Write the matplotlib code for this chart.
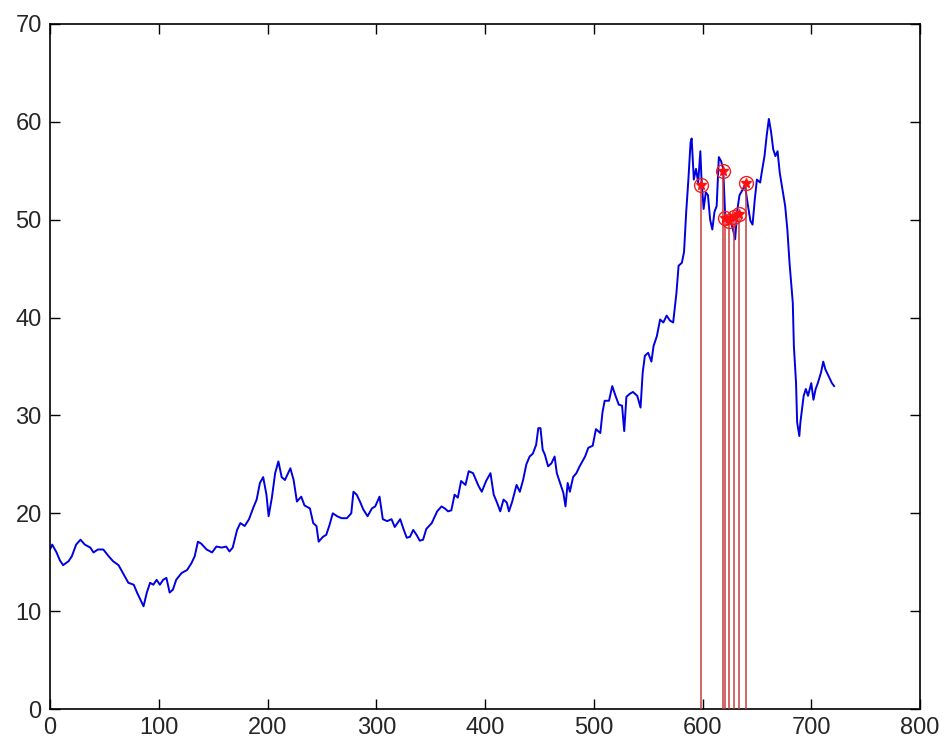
import matplotlib
matplotlib.use("Agg")
import matplotlib.pyplot as plt

# price series (day index, value)
days = [0, 2, 6, 9, 12, 17, 20, 24, 28, 32, 37, 40, 44, 49, 54, 58, 63, 67, 72, 77,
        80, 83, 86, 89, 92, 95, 98, 101, 104, 107, 110, 113, 116, 121, 126, 130, 133, 136, 139, 144,
        149, 153, 158, 162, 165, 168, 172, 175, 179, 183, 187, 190, 193, 196, 199, 201, 204, 207, 210, 213,
        216, 221, 224, 227, 231, 234, 239, 242, 245, 247, 251, 254, 257, 260, 264, 268, 273, 277, 279, 282,
        285, 288, 292, 296, 299, 303, 306, 310, 314, 317, 322, 325, 328, 331, 334, 337, 340, 343, 346, 351,
        356, 360, 363, 366, 369, 372, 375, 378, 382, 385, 389, 394, 397, 401, 405, 408, 411, 414, 417, 420,
        422, 425, 429, 432, 435, 438, 441, 444, 447, 449, 451, 453, 455, 458, 461, 464, 466, 469, 472, 474,
        476, 478, 481, 484, 487, 492, 495, 499, 502, 506, 508, 510, 514, 517, 520, 523, 526, 528, 530, 533,
        536, 540, 543, 545, 547, 550, 553, 555, 558, 561, 564, 567, 570, 573, 576, 578, 581, 583, 585, 587,
        589, 590, 592, 594, 596, 598, 599, 601, 603, 605, 607, 609, 611, 613, 615, 617, 619, 621, 623, 625,
        628, 630, 632, 634, 637, 639, 641, 644, 646, 648, 650, 653, 655, 657, 659, 661, 663, 665, 667, 669,
        671, 674, 676, 678, 680, 683, 684, 686, 687, 689, 690, 693, 695, 697, 700, 702, 704, 706, 709, 711,
        713, 716, 719, 721]
prices = [16.3, 16.8, 16.0, 15.2, 14.7, 15.1, 15.6, 16.8, 17.3, 16.8, 16.5, 16.0, 16.3, 16.3, 15.6, 15.1, 14.7, 13.9, 12.9, 12.7,
          11.9, 11.2, 10.5, 11.9, 12.9, 12.7, 13.2, 12.7, 13.2, 13.4, 11.9, 12.2, 13.2, 13.9, 14.2, 14.9, 15.6, 17.1, 16.9, 16.3,
          16.0, 16.6, 16.5, 16.6, 16.1, 16.5, 18.3, 19.0, 18.7, 19.4, 20.6, 21.4, 23.1, 23.7, 21.9, 19.7, 21.6, 24.1, 25.3, 23.7,
          23.4, 24.6, 23.4, 21.2, 21.7, 20.8, 20.5, 19.0, 18.7, 17.1, 17.6, 17.8, 18.8, 20.0, 19.7, 19.5, 19.5, 20.0, 22.2, 21.9,
          21.2, 20.4, 19.7, 20.5, 20.7, 21.7, 19.4, 19.2, 19.4, 18.6, 19.4, 18.4, 17.5, 17.6, 18.3, 17.8, 17.2, 17.3, 18.4, 19.0,
          20.2, 20.7, 20.5, 20.2, 20.3, 21.9, 21.6, 23.3, 22.9, 24.3, 24.1, 22.8, 22.2, 23.3, 24.1, 21.9, 21.1, 20.2, 21.4, 21.1,
          20.2, 21.2, 22.9, 22.2, 23.4, 25.0, 25.8, 26.1, 27.0, 28.7, 28.7, 26.5, 26.0, 24.8, 25.1, 25.8, 24.1, 23.1, 22.1, 20.7,
          23.1, 22.2, 23.7, 24.1, 24.8, 25.8, 26.7, 26.9, 28.6, 28.2, 30.3, 31.5, 31.5, 33.0, 32.0, 31.1, 31.0, 28.4, 31.9, 32.2,
          32.4, 32.0, 30.8, 34.4, 36.1, 36.4, 35.5, 37.1, 38.1, 39.8, 39.5, 40.2, 39.7, 39.5, 42.5, 45.3, 45.6, 46.7, 50.8, 54.1,
          57.9, 58.3, 54.1, 55.2, 53.8, 57.0, 54.3, 51.1, 52.8, 52.5, 50.0, 49.0, 50.8, 51.4, 56.4, 56.0, 55.2, 50.0, 49.7, 50.3,
          49.0, 48.0, 51.0, 52.5, 53.1, 53.6, 52.0, 49.9, 49.5, 52.0, 54.1, 53.8, 55.2, 56.5, 58.6, 60.3, 59.0, 57.2, 56.5, 57.0,
          54.8, 52.8, 51.4, 49.0, 45.6, 41.5, 37.1, 33.3, 29.3, 27.9, 29.3, 32.0, 32.7, 32.0, 33.3, 31.6, 32.7, 33.3, 34.4, 35.5,
          34.7, 34.0, 33.3, 33.0]

# marked points (stems)
mark_days = [599, 619, 621, 624, 629, 634, 640]
mark_vals = [53.5, 55.0, 50.2, 49.9, 50.3, 50.6, 53.8]

x_ticks = [0, 100, 200, 300, 400, 500, 600, 700, 800]
y_ticks = [0, 10, 20, 30, 40, 50, 60, 70]

fig = plt.figure(figsize=(9.44, 7.45), dpi=100)
ax = fig.add_axes([0.053, 0.0483, 0.9216, 0.9195])

ax.plot(days, prices, color="#0000e0", linewidth=1.4, zorder=2)

ax.vlines(mark_days, 0, mark_vals, color="#c83c3c", linewidth=1.1, zorder=3)
ax.plot(mark_days, mark_vals, linestyle="none", marker="o", markersize=10,
        markerfacecolor="none", markeredgecolor="#ee2020", markeredgewidth=1.0, zorder=4)
ax.plot(mark_days, mark_vals, linestyle="none", marker="*", markersize=7,
        color="#ff1010", zorder=4)

ax.set_xlim(0, 800)
ax.set_ylim(0, 70)
ax.set_xticks(x_ticks)
ax.set_yticks(y_ticks)
ax.tick_params(direction="in", length=7, width=1, top=True, right=True,
               labelsize=17, labelcolor="#262626", pad=6)
for lab in ax.get_xticklabels() + ax.get_yticklabels():
    lab.set_family("Liberation Sans")
for s in ax.spines.values():
    s.set_linewidth(1.2)

fig.savefig("out.png", dpi=100)
